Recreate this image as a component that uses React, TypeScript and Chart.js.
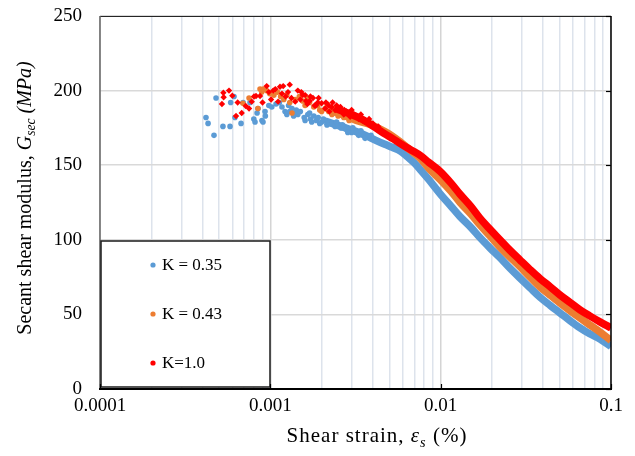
import React, { useEffect, useRef } from 'react';
import { Chart, registerables } from 'chart.js';

Chart.register(...registerables);

// ---------- labels ----------
const SERIES_LABELS = ['K = 0.35', 'K = 0.43', 'K=1.0'];
const SERIES_COLORS = ['#5B9BD5', '#ED7D31', '#FF0000'];

const X_DECADES = [0.0001, 0.001, 0.01, 0.1];
const X_DECADE_LABELS = ['0.0001', '0.001', '0.01', '0.1'];
const X_MINOR_MULTIPLIERS = [2, 3, 4, 5, 6, 7, 8, 9];
const Y_TICKS = [0, 50, 100, 150, 200, 250];

// ---------- K = 0.35 (blue) ----------
const K035_SCATTER_STRAIN = [
  0.000419, 0.000431, 0.000467, 0.00048, 0.000527, 0.00058, 0.000585, 0.000612, 0.00062, 0.000673,
  0.000692, 0.00076, 0.0008, 0.000813, 0.000836, 0.000847, 0.000893, 0.000906, 0.000931, 0.000935,
  0.00098, 0.00102, 0.00108, 0.00113, 0.00117, 0.00122, 0.00128, 0.00134, 0.0014, 0.00145,
  0.0015, 0.00158, 0.00166, 0.00172, 0.0018, 0.00186, 0.00191, 0.002, 0.0021, 0.0022,
  0.0023, 0.0024, 0.0025, 0.0026, 0.0027, 0.0028, 0.0029, 0.003, 0.0031, 0.0032,
  0.00125, 0.0013, 0.00137, 0.00142, 0.0016, 0.0017, 0.00175, 0.00195, 0.00205, 0.00215,
  0.00245, 0.00265, 0.00285, 0.00305, 0.0033, 0.0034, 0.0036, 0.0039,
];
const K035_SCATTER_G = [
  182, 178, 170, 195, 176, 176, 192, 196, 182, 178,
  192, 192, 181, 179, 185, 188, 180, 179, 186, 183,
  190, 189, 191, 192, 189, 186, 190, 188, 185, 184,
  186, 182, 184, 181, 183, 180, 182, 179, 180, 178,
  178, 176, 177, 175, 176, 174, 174, 172, 173, 172,
  184, 186, 183, 187, 180, 185, 179, 178, 181, 177,
  179, 177, 172, 175, 170, 173, 168, 170,
];
const K035_BAND_STRAIN = [
  0.0021, 0.0026, 0.0032, 0.0037, 0.0041, 0.0047, 0.0052, 0.0058, 0.0064, 0.007,
  0.0076, 0.0085, 0.0099, 0.0115, 0.013, 0.015, 0.017, 0.0195, 0.0223, 0.0255,
  0.0292, 0.0335, 0.0383, 0.044, 0.0502, 0.0575, 0.0658, 0.075, 0.0861, 0.1,
];
const K035_BAND_G = [
  179.5, 176, 172.5, 169.5, 167, 164, 162, 159.5, 155.5, 151.5,
  147, 140.5, 131, 122.5, 115.5, 108.5, 101.5, 94.5, 88, 81,
  74.4, 67.8, 61.5, 56, 51, 45.8, 41, 37, 33.5, 28.5,
];

// ---------- K = 0.43 (orange) ----------
const K043_SCATTER_STRAIN = [
  0.00069, 0.00075, 0.000845, 0.00087, 0.00089, 0.00091, 0.00095, 0.00099, 0.00105, 0.0011,
  0.00115, 0.0012, 0.00125, 0.0013, 0.00134, 0.0014, 0.00148, 0.00155, 0.0016, 0.0017,
  0.0018, 0.0019, 0.002, 0.0021, 0.0022, 0.0023, 0.0024, 0.0025, 0.0026, 0.0027,
  0.0028, 0.003, 0.0032, 0.00165, 0.00195, 0.00215, 0.00235, 0.00255, 0.00275, 0.0029,
  0.0031, 0.0033, 0.0035, 0.0038,
];
const K043_SCATTER_G = [
  191.5, 195, 188, 201, 199, 201, 200, 198, 197, 199,
  196, 194, 197, 192, 185, 194, 196, 193, 190, 192,
  189, 190, 186, 188, 186, 184, 186, 183, 184, 182,
  183, 181, 180, 195, 187, 191, 188, 186, 185, 180,
  183, 182, 179, 179,
];
const K043_BAND_STRAIN = [
  0.0022, 0.0027, 0.0032, 0.0037, 0.0041, 0.0047, 0.0052, 0.0058, 0.0064, 0.007,
  0.0076, 0.0085, 0.0099, 0.0115, 0.013, 0.015, 0.017, 0.0195, 0.0223, 0.0255,
  0.0292, 0.0335, 0.0383, 0.044, 0.0502, 0.0575, 0.0658, 0.075, 0.0861, 0.1,
];
const K043_BAND_G = [
  187, 183.5, 180, 178, 176, 172.5, 169.5, 165.5, 161.5, 158,
  154.5, 148, 140.5, 132.5, 125, 117.5, 110, 102.5, 95, 88.5,
  82, 75, 68.4, 62.8, 57.6, 52.5, 47.6, 43, 38.2, 32.5,
];

// ---------- K = 1.0 (red) ----------
const K10_SCATTER_STRAIN = [
  0.00052, 0.00053, 0.000532, 0.000572, 0.000598, 0.000629, 0.000643, 0.000679, 0.000717, 0.00075,
  0.000778, 0.000802, 0.000824, 0.00087, 0.0009, 0.000952, 0.00098, 0.00101, 0.00104, 0.00107,
  0.00111, 0.00114, 0.00117, 0.00119, 0.00123, 0.00127, 0.0013, 0.00133, 0.0014, 0.00145,
  0.0015, 0.00155, 0.0016, 0.00165, 0.0017, 0.00178, 0.00185, 0.0019, 0.002, 0.0021,
  0.0022, 0.00229, 0.0024, 0.0025, 0.00262, 0.0027, 0.0028, 0.00294, 0.0031, 0.0033,
  0.0035, 0.00152, 0.00162, 0.00172, 0.00182, 0.00192, 0.00212, 0.00222, 0.00232, 0.00245,
  0.00258, 0.00272, 0.0029, 0.003, 0.0032, 0.0034, 0.0036, 0.0038, 0.004, 0.0043,
];
const K10_SCATTER_G = [
  191, 198.6, 195.5, 200, 196.6, 183, 192, 185, 189.7, 188,
  192.6, 196, 196.4, 196.4, 192, 203, 199, 194, 200, 201,
  192.6, 202.6, 198, 203, 196, 199, 204, 195, 192.6, 200,
  194, 197, 197, 191, 193, 195, 190, 192, 191.5, 188,
  190, 189, 187, 188.5, 186, 184, 186, 182.5, 184, 181,
  180, 199, 193, 196, 190, 195, 192, 186, 192, 190,
  189, 187, 185, 187, 183, 184, 179, 181, 178, 176,
];
const K10_BAND_STRAIN = [
  0.0024, 0.003, 0.0035, 0.0041, 0.0047, 0.0052, 0.0058, 0.0064, 0.007, 0.0076,
  0.0085, 0.0099, 0.0115, 0.013, 0.015, 0.017, 0.0195, 0.0223, 0.0255, 0.0292,
  0.0335, 0.0383, 0.044, 0.0502, 0.0575, 0.0658, 0.075, 0.0861, 0.1,
];
const K10_BAND_G = [
  188, 184, 180.5, 175.5, 171, 168, 164.5, 161.5, 159, 156.5,
  152, 146, 138, 130.5, 122.5, 114.5, 107, 100, 93, 86.5,
  80, 74, 68.5, 63, 58, 53, 49, 45, 41,
];

const zip = (xs: number[], ys: number[]) => xs.map((x, i) => ({ x, y: ys[i] }));

const X_TICK_VALUES: number[] = [];
const X_TICK_TEXT: string[] = [];
X_DECADES.forEach((d, i) => {
  X_TICK_VALUES.push(d);
  X_TICK_TEXT.push(X_DECADE_LABELS[i]);
  if (i < X_DECADES.length - 1) {
    X_MINOR_MULTIPLIERS.forEach((m) => {
      X_TICK_VALUES.push(parseFloat((d * m).toPrecision(6)));
      X_TICK_TEXT.push('');
    });
  }
});

const isDecade = (v: number) => X_DECADES.some((d) => Math.abs(v - d) / d < 1e-6);

const SERIF = '"Liberation Serif", "Times New Roman", serif';

type Seg = { t: string; it?: boolean; sub?: boolean };

function segFont(s: Seg, size: number) {
  const sz = s.sub ? size * 0.68 : size;
  return `${s.it ? 'italic ' : ''}${sz}px ${SERIF}`;
}

function drawRich(ctx: any, segs: Seg[], cx: number, baseY: number, size: number, spacing: number) {
  ctx.letterSpacing = `${spacing}px`;
  let total = 0;
  segs.forEach((s) => {
    ctx.font = segFont(s, size);
    total += ctx.measureText(s.t).width;
  });
  let x = cx - total / 2;
  ctx.textAlign = 'left';
  ctx.textBaseline = 'alphabetic';
  segs.forEach((s) => {
    ctx.font = segFont(s, size);
    ctx.fillText(s.t, x, s.sub ? baseY + size * 0.22 : baseY);
    x += ctx.measureText(s.t).width;
  });
  ctx.letterSpacing = '0px';
}

const X_TITLE: Seg[] = [
  { t: 'Shear strain, ' },
  { t: 'ε', it: true },
  { t: 's', it: true, sub: true },
  { t: ' (%)' },
];
const Y_TITLE: Seg[] = [
  { t: 'Secant shear modulus, ' },
  { t: 'G', it: true },
  { t: 'sec', it: true, sub: true },
  { t: ' (MPa)', it: true },
];

const decorPlugin = {
  id: 'decor',
  beforeDraw(chart: any) {
    const { ctx, width, height } = chart;
    ctx.save();
    ctx.fillStyle = '#ffffff';
    ctx.fillRect(0, 0, width, height);
    ctx.restore();
  },
  afterDraw(chart: any) {
    const { ctx, chartArea } = chart;
    const { left, right, top, bottom } = chartArea;
    const xs = chart.scales.x;
    const ys = chart.scales.y;
    ctx.save();

    // frame
    ctx.lineCap = 'butt';
    ctx.strokeStyle = '#262626';
    ctx.lineWidth = 1.2;
    ctx.beginPath();
    ctx.moveTo(left, top + 0.5);
    ctx.lineTo(right, top + 0.5);
    ctx.stroke();
    ctx.strokeStyle = '#000000';
    ctx.lineWidth = 1.5;
    ctx.beginPath();
    ctx.moveTo(right, top);
    ctx.lineTo(right, bottom);
    ctx.stroke();
    ctx.strokeStyle = '#666666';
    ctx.lineWidth = 1.5;
    ctx.beginPath();
    ctx.moveTo(left, top);
    ctx.lineTo(left, bottom);
    ctx.stroke();

    // right axis inward ticks
    ctx.strokeStyle = '#000000';
    ctx.lineWidth = 1.2;
    Y_TICKS.forEach((v) => {
      const py = Math.round(ys.getPixelForValue(v)) + 0.5;
      ctx.beginPath();
      ctx.moveTo(right, py);
      ctx.lineTo(right - 5, py);
      ctx.stroke();
    });

    // legend box
    const lx = left + 1, ly = 241, lw = 169, lh = 146;
    ctx.fillStyle = '#ffffff';
    ctx.fillRect(lx, ly, lw, lh);
    ctx.strokeStyle = '#1a1a1a';
    ctx.lineWidth = 1.5;
    ctx.strokeRect(lx, ly, lw, lh);
    const itemY = [265, 314, 363];
    SERIES_LABELS.forEach((lab, i) => {
      ctx.fillStyle = SERIES_COLORS[i];
      ctx.beginPath();
      ctx.arc(153, itemY[i], 2.6, 0, Math.PI * 2);
      ctx.fill();
      ctx.fillStyle = '#000000';
      ctx.font = `17px ${SERIF}`;
      ctx.textAlign = 'left';
      ctx.textBaseline = 'middle';
      ctx.fillText(lab, 162, itemY[i] + 1);
    });

    // bottom axis
    ctx.strokeStyle = '#000000';
    ctx.lineWidth = 2;
    ctx.beginPath();
    ctx.moveTo(left - 1, bottom);
    ctx.lineTo(right + 1, bottom);
    ctx.stroke();
    ctx.lineWidth = 1.2;
    X_DECADES.forEach((v) => {
      const px = Math.round(xs.getPixelForValue(v)) + 0.5;
      ctx.beginPath();
      ctx.moveTo(px, bottom);
      ctx.lineTo(px, bottom - 5);
      ctx.stroke();
    });

    // titles
    ctx.fillStyle = '#000000';
    drawRich(ctx, X_TITLE, 377, 442, 21, 1);
    ctx.save();
    ctx.translate(31, 198);
    ctx.rotate(-Math.PI / 2);
    drawRich(ctx, Y_TITLE, 0, 0, 20, 0);
    ctx.restore();

    ctx.restore();
  },
};

export default function App() {
  const ref = useRef<HTMLCanvasElement | null>(null);

  useEffect(() => {
    if (!ref.current) return;
    const scatterDs = (label: string, xs: number[], ys: number[], color: string, order: number, style: any, r: number) => ({
      label,
      data: zip(xs, ys),
      showLine: false,
      pointRadius: r,
      pointStyle: style,
      pointBackgroundColor: color,
      pointBorderWidth: 0,
      borderColor: color,
      backgroundColor: color,
      order,
    });
    const bandDs = (label: string, xs: number[], ys: number[], color: string, order: number) => ({
      label,
      data: zip(xs, ys),
      showLine: true,
      borderColor: color,
      backgroundColor: color,
      borderWidth: 7.5,
      pointRadius: 0,
      cubicInterpolationMode: 'monotone',
      order,
    });

    const chart = new Chart(ref.current, {
      type: 'scatter',
      data: {
        datasets: [
          scatterDs(SERIES_LABELS[2], K10_SCATTER_STRAIN, K10_SCATTER_G, SERIES_COLORS[2], 0, 'rectRot', 3.2),
          bandDs(SERIES_LABELS[2], K10_BAND_STRAIN, K10_BAND_G, SERIES_COLORS[2], 1),
          scatterDs(SERIES_LABELS[1], K043_SCATTER_STRAIN, K043_SCATTER_G, SERIES_COLORS[1], 2, 'circle', 2.8),
          bandDs(SERIES_LABELS[1], K043_BAND_STRAIN, K043_BAND_G, SERIES_COLORS[1], 3),
          scatterDs(SERIES_LABELS[0], K035_SCATTER_STRAIN, K035_SCATTER_G, SERIES_COLORS[0], 4, 'circle', 2.8),
          bandDs(SERIES_LABELS[0], K035_BAND_STRAIN, K035_BAND_G, SERIES_COLORS[0], 5),
        ] as any,
      },
      options: {
        responsive: false,
        animation: false,
        devicePixelRatio: 1,
        layout: { padding: { left: 0, right: 24, top: 0, bottom: 0 } },
        plugins: {
          legend: { display: false },
          tooltip: { enabled: false },
        },
        scales: {
          x: {
            type: 'logarithmic',
            min: 0.0001,
            max: 0.1,
            afterBuildTicks: (scale: any) => {
              scale.ticks = X_TICK_VALUES.map((v) => ({ value: v }));
            },
            afterFit: (scale: any) => {
              scale.height = 67;
            },
            border: { display: false },
            grid: {
              drawTicks: false,
              color: (c: any) => (isDecade(c.tick.value) ? '#d4d4d4' : '#dde3ec'),
              lineWidth: 1.5,
            },
            ticks: {
              autoSkip: false,
              maxRotation: 0,
              padding: 6,
              color: '#000000',
              font: { family: SERIF, size: 19 },
              callback: (_v: any, i: number) => X_TICK_TEXT[i],
            },
          },
          y: {
            type: 'linear',
            min: 0,
            max: 250,
            afterFit: (scale: any) => {
              scale.width = 100;
              scale.paddingTop = 16;
              scale.paddingBottom = 0;
            },
            border: { display: false },
            grid: {
              drawTicks: false,
              color: '#d9d9d9',
              lineWidth: 1.5,
            },
            ticks: {
              stepSize: 50,
              padding: 18,
              color: '#000000',
              font: { family: SERIF, size: 19 },
            },
          },
        },
      } as any,
      plugins: [decorPlugin],
    });
    return () => chart.destroy();
  }, []);

  return (
    <div style={{ position: 'fixed', left: 0, top: 0, width: 635, height: 456, background: '#fff' }}>
      <canvas ref={ref} width={635} height={456} style={{ display: 'block', width: 635, height: 456 }} />
    </div>
  );
}
